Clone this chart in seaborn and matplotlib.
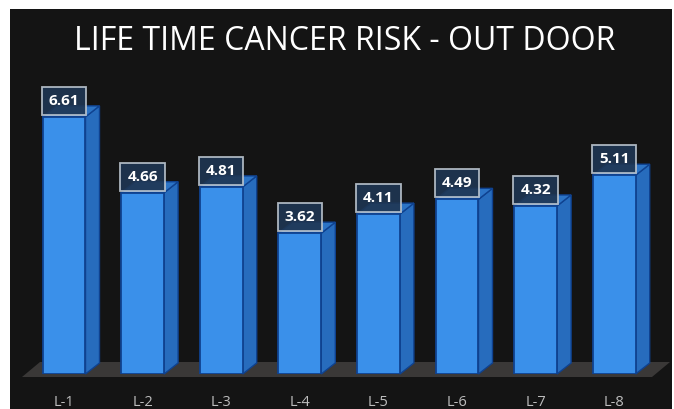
import matplotlib
matplotlib.use("Agg")
import matplotlib.pyplot as plt
import seaborn as sns
import pandas as pd
from matplotlib.patches import Polygon, Rectangle

categories = ["L-1", "L-2", "L-3", "L-4", "L-5", "L-6", "L-7", "L-8"]
values = [6.61, 4.66, 4.81, 3.62, 4.11, 4.49, 4.32, 5.11]
title = "LIFE TIME CANCER RISK - OUT DOOR"

df = pd.DataFrame({"loc": categories, "risk": values})

sns.set_style("white")
plt.rcParams["font.family"] = ["Open Sans", "DejaVu Sans"]

W, H = 674, 409
fig = plt.figure(figsize=(W / 100, H / 100), dpi=100)
fig.patch.set_facecolor("white")
# dark panel
fig.patches.append(Rectangle((10 / W, 0), (672 - 10) / W, (H - 9) / H,
                             transform=fig.transFigure, facecolor="#141414",
                             edgecolor="none", zorder=-10))

ax_left, ax_right = 24.7, 653.5
ax_top, ax_bot = 9, 374
ax = fig.add_axes([ax_left / W, (H - ax_bot) / H, (ax_right - ax_left) / W, (ax_bot - ax_top) / H])
ax.set_facecolor("none")

front = "#3a90ea"
edge = "#0f4290"
side = "#276cbd"
topc = "#2c74c6"

sns.barplot(data=df, x="loc", y="risk", ax=ax, color=front, saturation=1,
            width=0.547, edgecolor=edge, linewidth=1.3, zorder=3)
ax.set_xlim(-0.5, 7.5)
ax.set_ylim(0, (ax_bot - ax_top) / 38.9)

px_x = (ax_right - ax_left) / 8.0
px_y = 38.9
dxd = 14 / px_x
dyd = 11 / px_y

# floor
fx0 = -0.5 - (ax_left - 22) / px_x
fx1 = 7.5 - (ax_right - 652) / px_x
fy0 = -3 / px_y
fdx = 18 / px_x
fdy = 15 / px_y
floor = Polygon([(fx0, fy0), (fx1, fy0), (fx1 + fdx, fy0 + fdy), (fx0 + fdx, fy0 + fdy)],
                closed=True, facecolor="#3a3837", edgecolor="none", zorder=1, clip_on=False)
ax.add_patch(floor)

for p, v in zip(list(ax.patches)[:len(values)], values):
    x, w, h = p.get_x(), p.get_width(), p.get_height()
    sidep = Polygon([(x + w, 0), (x + w + dxd, dyd), (x + w + dxd, h + dyd), (x + w, h)],
                    closed=True, facecolor=side, edgecolor=edge, linewidth=1.0, zorder=2, clip_on=False)
    topp = Polygon([(x, h), (x + w, h), (x + w + dxd, h + dyd), (x + dxd, h + dyd)],
                   closed=True, facecolor=topc, edgecolor=edge, linewidth=1.0, zorder=2, clip_on=False)
    ax.add_patch(sidep)
    ax.add_patch(topp)
    ax.annotate(f"{v:.2f}", xy=(x + w / 2, h), xytext=(0, 6.5), textcoords="offset points",
                ha="center", va="bottom", color="white", fontsize=11, fontweight="bold",
                zorder=6,
                bbox=dict(boxstyle="square,pad=0.45", facecolor="#1f3653", edgecolor="#bcc6d0",
                          linewidth=1.3, alpha=0.9))

for s in ax.spines.values():
    s.set_visible(False)
ax.set_yticks([])
ax.set_xlabel("")
ax.set_ylabel("")
ax.tick_params(axis="x", length=0, pad=15, labelsize=10.5, labelcolor="#bdbdbd")

fig.text(345 / W, (H - 41) / H, title, ha="center", va="center", color="white",
         fontsize=23)

fig.savefig("out.png", dpi=100, facecolor=fig.get_facecolor())
